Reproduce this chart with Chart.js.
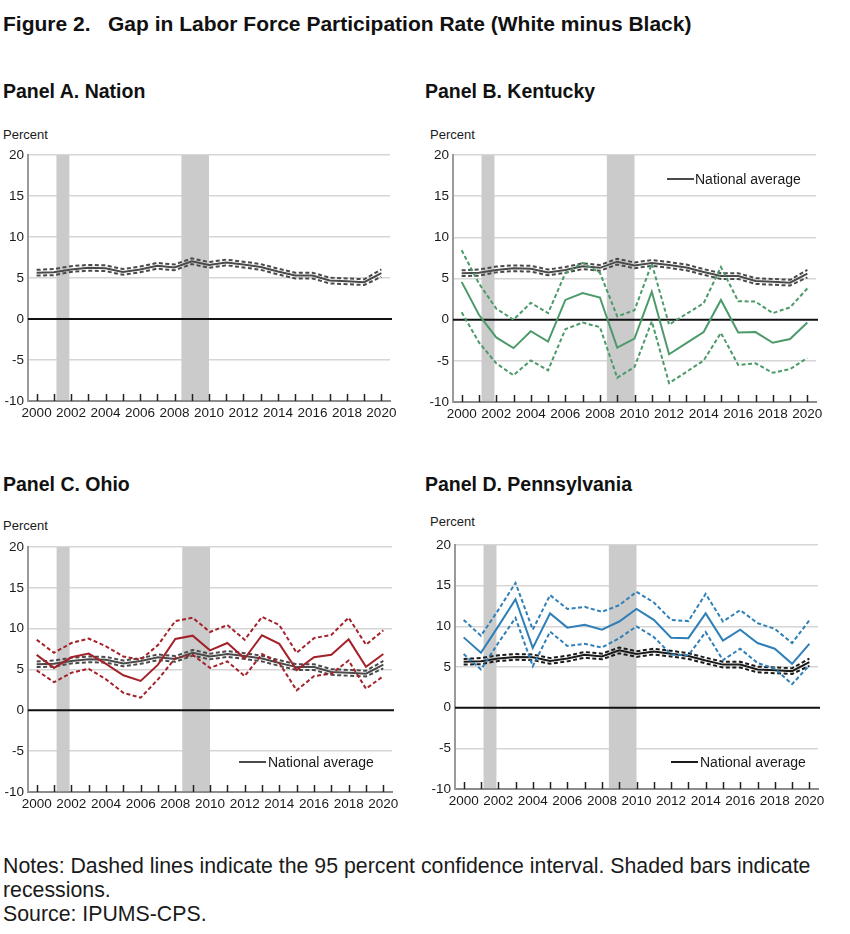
<!DOCTYPE html>
<html>
<head>
<meta charset="utf-8">
<script src="https://cdn.jsdelivr.net/npm/chart.js@4.4.0/dist/chart.umd.min.js"></script>
<style>
  body { margin: 0; background: #fff; font-family: "Liberation Sans", Arial, sans-serif; color: #111; }
  #page { position: relative; width: 850px; height: 934px; overflow: hidden; background: #fff; }
  .t { position: absolute; white-space: nowrap; }
  .h { font-weight: bold; font-size: 19.5px; }
  .pct { font-size: 13px; color: #1a1a1a; }
  .leg { font-size: 14px; color: #1a1a1a; }
  .legline { position: absolute; height: 2px; width: 27px; }
  canvas { position: absolute; }
</style>
</head>
<body>
<div id="page">
  <div class="t h" style="left:3px;top:12px;font-size:21px">Figure 2.&nbsp;&nbsp; Gap in Labor Force Participation Rate (White minus Black)</div>

  <div class="t h" style="left:3px;top:80px">Panel A. Nation</div>
  <div class="t h" style="left:425px;top:80px">Panel B. Kentucky</div>
  <div class="t h" style="left:3px;top:473px">Panel C. Ohio</div>
  <div class="t h" style="left:425px;top:473px">Panel D. Pennsylvania</div>

  <div class="t pct" style="left:3px;top:127px">Percent</div>
  <div class="t pct" style="left:430px;top:127px">Percent</div>
  <div class="t pct" style="left:3px;top:518px">Percent</div>
  <div class="t pct" style="left:430px;top:514px">Percent</div>

  <canvas id="chartA" width="410" height="285" style="left:0px;top:143px"></canvas>
  <canvas id="chartB" width="411" height="286" style="left:425px;top:143px"></canvas>
  <canvas id="chartC" width="412" height="284" style="left:0px;top:535px"></canvas>
  <canvas id="chartD" width="411" height="283" style="left:427px;top:533px"></canvas>

  <div class="legline" style="left:667px;top:178px;background:#4a4a4a"></div>
  <div class="t leg" style="left:695px;top:171px">National average</div>
  <div class="legline" style="left:239px;top:761px;background:#4a4a4a"></div>
  <div class="t leg" style="left:268px;top:754px">National average</div>
  <div class="legline" style="left:671px;top:761px;background:#1a1a1a"></div>
  <div class="t leg" style="left:700px;top:754px">National average</div>

  <div class="t" style="left:3px;top:854px;font-size:21.3px;line-height:24px;color:#1a1a1a">
    Notes: Dashed lines indicate the 95 percent confidence interval. Shaded bars indicate<br>
    recessions.<br>
    Source: IPUMS-CPS.
  </div>
</div>

<script>
const years = [2000, 2001, 2002, 2003, 2004, 2005, 2006, 2007, 2008, 2009, 2010,
               2011, 2012, 2013, 2014, 2015, 2016, 2017, 2018, 2019, 2020];
const xTickLabels = [2000, 2002, 2004, 2006, 2008, 2010, 2012, 2014, 2016, 2018, 2020];
const yTickLabels = [-10, -5, 0, 5, 10, 15, 20];
const recessions = [[2001.15, 2001.9], [2008.4, 2010.0]];

// national average and its 95% band
const nationMid = [5.65, 5.7, 6.05, 6.25, 6.2, 5.75, 6.05, 6.5, 6.3, 7.05, 6.6, 6.9, 6.65, 6.35, 5.8, 5.3, 5.3, 4.7, 4.6, 4.5, 5.6];
const nationHi  = [6.0, 6.1, 6.45, 6.6, 6.55, 6.1, 6.4, 6.85, 6.65, 7.4, 6.95, 7.25, 7.0, 6.7, 6.15, 5.65, 5.65, 5.05, 4.95, 4.85, 6.05];
const nationLo  = [5.3, 5.35, 5.75, 5.9, 5.85, 5.4, 5.7, 6.15, 5.95, 6.7, 6.25, 6.55, 6.3, 6.0, 5.45, 4.95, 4.95, 4.35, 4.25, 4.15, 5.15];

// Kentucky
const kyMid = [4.6, 0.6, -2.15, -3.45, -1.4, -2.65, 2.4, 3.25, 2.7, -3.4, -2.3, 3.4, -4.2, -2.85, -1.5, 2.4, -1.55, -1.5, -2.8, -2.35, -0.35];
const kyHi  = [8.45, 4.4, 1.35, 0.0, 2.05, 0.8, 5.65, 6.9, 5.7, 0.4, 1.15, 6.8, -0.6, 0.7, 2.0, 6.4, 2.25, 2.2, 0.8, 1.5, 3.8];
const kyLo  = [0.9, -2.75, -5.3, -6.75, -4.95, -6.15, -1.15, -0.35, -0.9, -7.05, -5.75, -0.2, -7.7, -6.35, -4.95, -1.6, -5.5, -5.3, -6.45, -6.0, -4.65];

// Ohio
const ohMid = [6.8, 5.2, 6.5, 6.95, 5.7, 4.3, 3.6, 5.6, 8.75, 9.15, 7.35, 8.25, 6.35, 9.2, 8.15, 4.95, 6.5, 6.8, 8.7, 5.35, 6.9];
const ohHi  = [8.65, 7.05, 8.25, 8.8, 7.85, 6.6, 6.2, 8.0, 10.95, 11.35, 9.6, 10.45, 8.65, 11.45, 10.45, 7.05, 8.85, 9.25, 11.35, 8.05, 9.8];
const ohLo  = [4.9, 3.45, 4.6, 5.1, 3.8, 2.15, 1.55, 3.8, 6.4, 6.8, 5.2, 6.0, 4.2, 6.9, 5.8, 2.45, 4.2, 4.5, 6.1, 2.65, 4.2];

// Pennsylvania
const paMid = [8.65, 6.75, 10.0, 13.35, 7.35, 11.6, 9.85, 10.2, 9.6, 10.6, 12.15, 10.8, 8.6, 8.55, 11.6, 8.25, 9.6, 7.95, 7.25, 5.4, 7.85];
const paHi  = [10.8, 8.85, 12.0, 15.35, 9.6, 13.85, 12.15, 12.4, 11.8, 12.6, 14.25, 12.95, 10.8, 10.65, 14.0, 10.6, 12.0, 10.4, 9.7, 7.95, 10.75];
const paLo  = [6.6, 4.7, 7.95, 11.05, 5.1, 9.35, 7.6, 7.85, 7.4, 8.55, 10.0, 8.7, 6.55, 6.45, 9.3, 5.85, 7.25, 5.5, 4.8, 2.9, 5.2];

const FONT = "'Liberation Sans', Arial, sans-serif";
const DASH = [4, 2.5];

function series(vals, color, dash) {
  return {
    data: years.map((yr, i) => ({ x: yr, y: vals[i] })),
    borderColor: color,
    borderWidth: 2,
    borderDash: dash || [],
    pointRadius: 0,
    fill: false,
    tension: 0
  };
}

// recession shading, zero line and the small inner year ticks
const decor = {
  id: 'decor',
  beforeDatasetsDraw(chart) {
    const { ctx, chartArea: a, scales: { x, y } } = chart;
    ctx.save();
    ctx.fillStyle = '#cbcbcb';
    recessions.forEach(([s, e]) => {
      const x0 = x.getPixelForValue(s), x1 = x.getPixelForValue(e);
      ctx.fillRect(x0, a.top, x1 - x0, a.bottom - a.top - 1);
    });
    const y0 = y.getPixelForValue(0);
    ctx.strokeStyle = '#111';
    ctx.lineWidth = 2;
    ctx.beginPath();
    ctx.moveTo(a.left, y0);
    ctx.lineTo(a.right + 2, y0);
    ctx.stroke();
    ctx.strokeStyle = '#222';
    ctx.lineWidth = 1.5;
    years.forEach(v => {
      const px = Math.round(x.getPixelForValue(v)) + 0.5;
      ctx.beginPath();
      ctx.moveTo(px, a.bottom);
      ctx.lineTo(px, a.bottom - 7);
      ctx.stroke();
    });
    ctx.restore();
  }
};

function makePanel(id, stateSets, natColor) {
  const datasets = stateSets.concat([
    series(nationHi, natColor, DASH),
    series(nationLo, natColor, DASH),
    series(nationMid, natColor)
  ]);
  new Chart(document.getElementById(id), {
    type: 'line',
    data: { datasets },
    plugins: [decor],
    options: {
      responsive: false,
      animation: false,
      layout: { padding: { top: 10, right: 20, left: 0, bottom: 0 } },
      plugins: { legend: { display: false }, tooltip: { enabled: false } },
      scales: {
        x: {
          type: 'linear', min: 1999.5, max: 2020.5,
          afterBuildTicks: s => { s.ticks = xTickLabels.map(v => ({ value: v })); },
          afterFit: s => { s.height = 27; },
          grid: { display: false, drawTicks: false },
          border: { display: true, color: '#8c8c8c', width: 2 },
          ticks: { font: { size: 13.5, family: FONT }, color: '#1a1a1a', padding: 4,
                   maxRotation: 0, autoSkip: false, callback: v => String(v) }
        },
        y: {
          min: -10, max: 20,
          afterBuildTicks: s => { s.ticks = yTickLabels.map(v => ({ value: v })); },
          afterFit: s => { s.width = 28; },
          grid: {
            color: c => (c.tick && (c.tick.value === 0 || c.tick.value === -10)) ? 'rgba(0,0,0,0)' : '#d6d6d6',
            lineWidth: 1.5, drawTicks: false
          },
          border: { display: true, color: '#9a9a9a', width: 2 },
          ticks: { font: { size: 13.5, family: FONT }, color: '#1a1a1a', padding: 4,
                   callback: v => String(v) }
        }
      }
    }
  });
}

const green = '#4c9a6a', red = '#a3222a', blue = '#2f7fb8';

makePanel('chartA', [], '#4a4a4a');
makePanel('chartB', [series(kyHi, green, DASH), series(kyLo, green, DASH), series(kyMid, green)], '#4a4a4a');
makePanel('chartC', [series(ohHi, red, DASH), series(ohLo, red, DASH), series(ohMid, red)], '#4a4a4a');
makePanel('chartD', [series(paHi, blue, DASH), series(paLo, blue, DASH), series(paMid, blue)], '#1a1a1a');
</script>
</body>
</html>
